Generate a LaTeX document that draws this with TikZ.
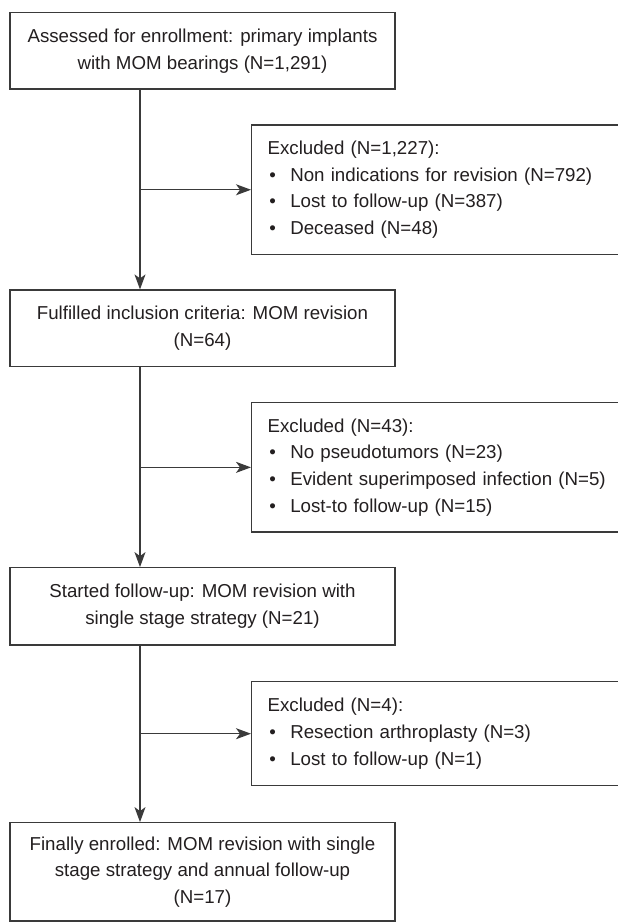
\documentclass[tikz,border=0pt]{standalone}
\usepackage{fontspec}
\setmainfont{Liberation Sans}
\usetikzlibrary{arrows.meta}
\definecolor{linecol}{HTML}{3A3A3A}
\definecolor{textcol}{HTML}{231F20}
\newcommand{\bul}{\hspace*{1.7pt}\makebox[21pt][l]{\textbullet}}
\begin{document}
\begin{tikzpicture}[x=1pt,y=-1pt,
  every node/.style={font=\fontsize{18.7}{26.7}\selectfont, text=textcol},
  mainbox/.style={draw=linecol, line width=1.2pt, minimum width=385pt, align=center, inner sep=0pt},
  exclbox/.style={draw=linecol, line width=1.2pt, anchor=west, text width=357pt, inner xsep=16pt, inner ysep=0pt, align=left},
  conn/.style={draw=linecol, line width=1.2pt},
  arr/.style={conn, -{Stealth[length=15pt, width=11pt, inset=4pt]}}]
\useasboundingbox (0,0) rectangle (618,922);
\fill[white] (0,0) rectangle (618,922);
\coordinate (vx) at (140,0);

\node[mainbox, minimum height=76.3pt] (b1) at (202.5,50.85)
  {Assessed for enrollment: primary implants\\with MOM bearings (N=1,291)};
\node[exclbox, minimum height=129.5pt] (e1) at (251,189.75)
  {Excluded (N=1,227):\\\bul Non indications for revision (N=792)\\\bul Lost to follow-up (N=387)\\\bul Deceased (N=48)};
\node[mainbox, minimum height=76.7pt] (b2) at (202.5,328.35)
  {Fulfilled inclusion criteria: MOM revision\\(N=64)};
\node[exclbox, minimum height=129.3pt] (e2) at (251,467.35)
  {Excluded (N=43):\\\bul No pseudotumors (N=23)\\\bul Evident superimposed infection (N=5)\\\bul Lost-to follow-up (N=15)};
\node[mainbox, minimum height=77.3pt] (b3) at (202.5,606.35)
  {Started follow-up: MOM revision with\\single stage strategy (N=21)};
\node[exclbox, minimum height=104pt] (e3) at (251,733.7)
  {Excluded (N=4):\\\bul Resection arthroplasty (N=3)\\\bul Lost to follow-up (N=1)};
\node[mainbox, minimum height=98.3pt] (b4) at (202.5,871.85)
  {Finally enrolled: MOM revision with single\\stage strategy and annual follow-up\\(N=17)};

\draw[arr] (b1.south -| vx) -- (b2.north -| vx);
\draw[arr] (e1.west -| vx) -- (e1.west);
\draw[arr] (b2.south -| vx) -- (b3.north -| vx);
\draw[arr] (e2.west -| vx) -- (e2.west);
\draw[arr] (b3.south -| vx) -- (b4.north -| vx);
\draw[arr] (e3.west -| vx) -- (e3.west);
\end{tikzpicture}
\end{document}
